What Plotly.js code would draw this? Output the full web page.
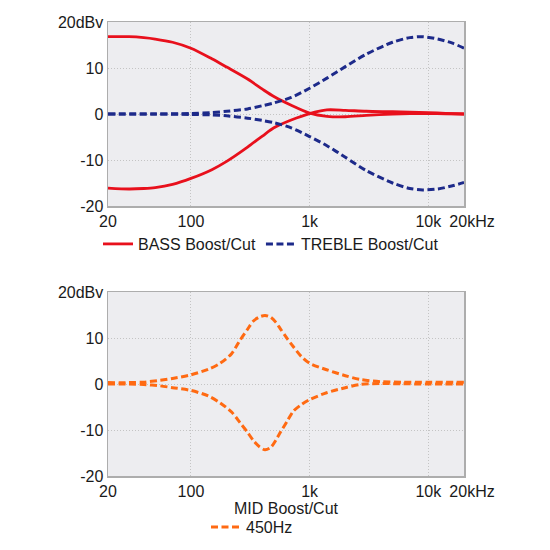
<!DOCTYPE html>
<html>
<head>
<meta charset="utf-8">
<script src="https://cdn.plot.ly/plotly-3.0.1.min.js"></script>
<style>
  html, body { margin: 0; padding: 0; background: #fff; }
  #chart { width: 550px; height: 550px; }
</style>
</head>
<body>
<div id="chart"></div>
<script>
// frequency response data (Hz / dBv)
const bassFreq = [20, 30, 40, 50, 70, 100, 150, 200, 300, 400, 500, 700, 1000, 1400, 2000, 3000, 5000, 7000, 10000, 14000, 20000];
const bassBoost = [16.8, 16.8, 16.6, 16.3, 15.6, 14.3, 12.0, 10.2, 7.6, 5.4, 3.8, 1.9, 0.2, -0.5, -0.6, -0.3, 0, 0.1, 0.1, 0.05, 0];
const bassCut = [-16.1, -16.3, -16.2, -16.0, -15.3, -14.0, -12.1, -10.3, -7.2, -4.8, -3.0, -1.3, 0.1, 0.9, 0.8, 0.6, 0.5, 0.4, 0.3, 0.15, 0];

const trebleFreq = [20, 50, 100, 150, 200, 300, 400, 500, 700, 1000, 1400, 2000, 3000, 5000, 7000, 9000, 12000, 16000, 20000];
const trebleBoost = [0, 0, 0.1, 0.3, 0.6, 1.1, 1.8, 2.4, 3.6, 5.6, 7.8, 10.3, 13.0, 15.6, 16.6, 16.8, 16.3, 15.4, 14.3];
const trebleCut = [0, 0, -0.1, -0.2, -0.4, -0.9, -1.4, -1.9, -3.0, -4.9, -6.9, -9.4, -12.3, -15.0, -16.2, -16.5, -16.3, -15.6, -14.9];

const midFreq = [20, 30, 40, 55, 70, 100, 140, 176, 220, 259, 300, 336, 380, 421, 470, 520, 567, 650, 730, 850, 1000, 1390, 2000, 2660, 4000, 6000, 10000, 20000];
const midBoost = [0.3, 0.3, 0.4, 0.8, 1.2, 2.0, 3.2, 4.5, 6.6, 9.5, 11.9, 13.7, 14.6, 14.9, 14.5, 13.4, 12.0, 9.8, 8.1, 6.0, 4.5, 3.1, 1.8, 1.0, 0.5, 0.4, 0.4, 0.4];
const midCut = [0, 0, -0.1, -0.4, -0.8, -1.4, -2.6, -4.1, -6.1, -8.4, -10.5, -12.3, -13.7, -14.3, -13.8, -12.2, -10.5, -8.0, -5.9, -4.5, -3.4, -1.9, -0.8, -0.1, 0.1, 0.05, 0, 0];

const xTickVals = [20, 100, 1000, 10000];
const xTickText = ['20', '100', '1k', '10k'];
const xEndVal = [20000];
const xEndText = ['20kHz'];
const yTickVals = [-20, -10, 0, 10, 20];
const yTickText = ['-20', '-10', '0', '10', '20dBv'];

const RED = '#e8101c';
const NAVY = '#1d2a8a';
const ORANGE = '#ff6a12';
const FONT = 'Liberation Sans, Arial, sans-serif';
const X_RANGE = [Math.log10(20), Math.log10(20000)];
const X_DOMAIN = [108 / 550, 464 / 550];
const TICKFONT = { size: 16, color: '#1a1a1a', family: FONT };

function curve(x, y, color, dash, name, showlegend, axes, legend) {
    return {
        x: x, y: y,
        type: 'scatter', mode: 'lines',
        name: name,
        legendgroup: name,
        showlegend: showlegend,
        legend: legend,
        xaxis: axes[0], yaxis: axes[1],
        line: { color: color, width: dash === 'solid' ? 2.8 : 3, dash: dash, shape: 'spline', smoothing: 0.8 },
        hoverinfo: 'skip'
    };
}

// empty trace so the overlay axis holding the "20kHz" label gets drawn
function holder(xa, ya) {
    return { x: [], y: [], type: 'scatter', mode: 'lines', xaxis: xa, yaxis: ya, showlegend: false, hoverinfo: 'skip' };
}

const traces = [
    curve(bassFreq, bassBoost, RED, 'solid', 'BASS Boost/Cut', true, ['x', 'y'], 'legend'),
    curve(bassFreq, bassCut, RED, 'solid', 'BASS Boost/Cut', false, ['x', 'y'], 'legend'),
    curve(trebleFreq, trebleBoost, NAVY, '7px,3.5px', 'TREBLE Boost/Cut', true, ['x', 'y'], 'legend'),
    curve(trebleFreq, trebleCut, NAVY, '7px,3.5px', 'TREBLE Boost/Cut', false, ['x', 'y'], 'legend'),
    curve(midFreq, midBoost, ORANGE, '7px,3.5px', '450Hz', true, ['x2', 'y2'], 'legend2'),
    curve(midFreq, midCut, ORANGE, '7px,3.5px', '450Hz', false, ['x2', 'y2'], 'legend2'),
    holder('x3', 'y'),
    holder('x4', 'y2')
];

function xAxis(anchor) {
    return {
        type: 'log',
        range: X_RANGE,
        domain: X_DOMAIN,
        anchor: anchor,
        tickvals: xTickVals, ticktext: xTickText, tickangle: 0,
        ticks: '', showgrid: true, gridcolor: '#c4c4c4', griddash: '1px,2px', gridwidth: 1,
        showline: true, mirror: true, linecolor: '#adadad', linewidth: 1.5,
        zeroline: false, fixedrange: true,
        tickfont: TICKFONT
    };
}

// overlay axis carrying only the "20kHz" end label, nudged right as in the reference
function xEndAxis(anchor, over) {
    return {
        type: 'log',
        range: X_RANGE,
        domain: X_DOMAIN,
        anchor: anchor,
        overlaying: over,
        side: 'bottom',
        tickvals: xEndVal, ticktext: xEndText, tickangle: 0,
        ticklabelshift: 8,
        ticks: '', showgrid: false, zeroline: false, fixedrange: true,
        showline: true, linecolor: 'rgba(0,0,0,0)', linewidth: 1.5,
        tickfont: TICKFONT
    };
}

function yAxis(anchor, domain) {
    return {
        range: [-20, 20],
        domain: domain,
        anchor: anchor,
        tickvals: yTickVals, ticktext: yTickText,
        ticks: '', showgrid: true, gridcolor: '#c4c4c4', griddash: '1px,2px', gridwidth: 1,
        showline: true, mirror: true, linecolor: '#adadad', linewidth: 1.5,
        zeroline: false, fixedrange: true,
        tickfont: TICKFONT
    };
}

const xaxis2 = xAxis('y2');
xaxis2.title = { text: 'MID Boost/Cut', font: { size: 16, color: '#1a1a1a', family: FONT }, standoff: 4 };

const layout = {
    width: 550, height: 550,
    margin: { l: 0, r: 0, t: 0, b: 0 },
    paper_bgcolor: '#ffffff',
    plot_bgcolor: '#ededf0',
    font: { family: FONT, color: '#1a1a1a' },
    xaxis: xAxis('y'),
    yaxis: yAxis('x', [(550 - 206) / 550, (550 - 22) / 550]),
    xaxis2: xaxis2,
    yaxis2: yAxis('x2', [(550 - 476) / 550, (550 - 292) / 550]),
    xaxis3: xEndAxis('y', 'x'),
    xaxis4: xEndAxis('y2', 'x2'),
    legend: {
        orientation: 'h', x: 98 / 550, xanchor: 'left', y: (550 - 244) / 550, yanchor: 'middle',
        font: { size: 16, color: '#1a1a1a', family: FONT }, bgcolor: 'rgba(0,0,0,0)', itemclick: false
    },
    legend2: {
        orientation: 'h', x: 206 / 550, xanchor: 'left', y: (550 - 527) / 550, yanchor: 'middle',
        font: { size: 16, color: '#1a1a1a', family: FONT }, bgcolor: 'rgba(0,0,0,0)', itemclick: false
    },
    showlegend: true
};

Plotly.newPlot('chart', traces, layout, { displayModeBar: false, staticPlot: true });
</script>
</body>
</html>
